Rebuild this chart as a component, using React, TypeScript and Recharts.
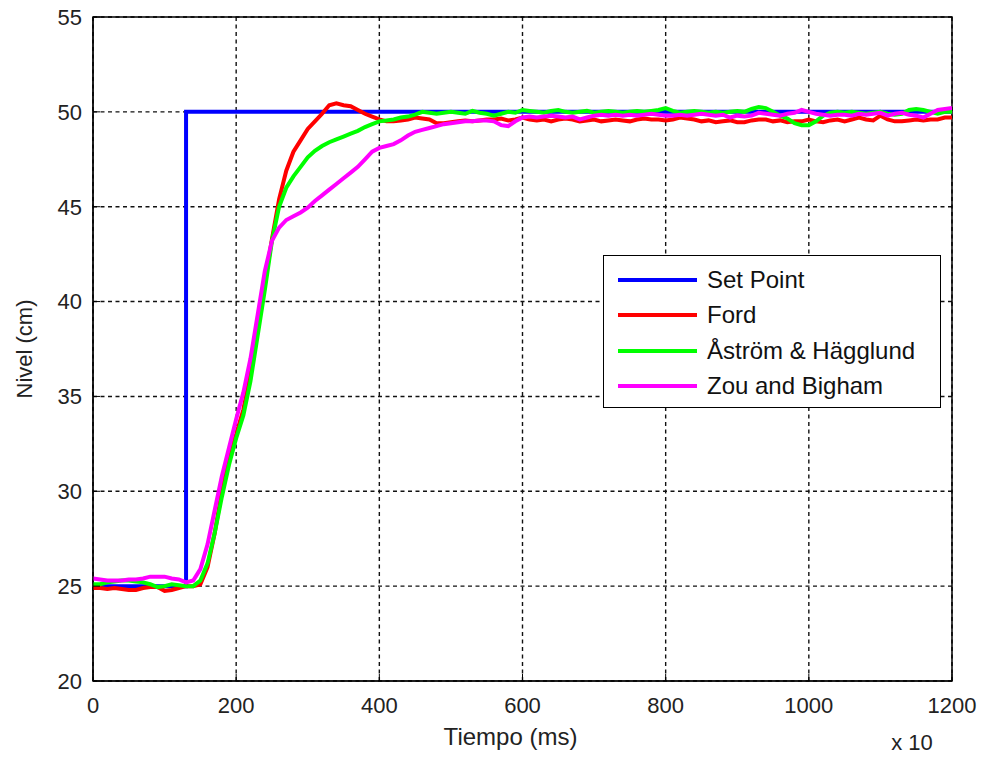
import React from 'react';
import {
  LineChart,
  Line,
  XAxis,
  YAxis,
  CartesianGrid,
  ReferenceArea,
} from 'recharts';

// Tiempo (x 10 ms), muestreado cada 10
const TIEMPO = [
  0, 10, 20, 30, 40, 50, 60, 70, 80, 90, 100, 110, 120, 130, 140, 150, 160, 170, 180, 190,
  200, 210, 220, 230, 240, 250, 260, 270, 280, 290, 300, 310, 320, 330, 340, 350, 360, 370, 380, 390,
  400, 410, 420, 430, 440, 450, 460, 470, 480, 490, 500, 510, 520, 530, 540, 550, 560, 570, 580, 590,
  600, 610, 620, 630, 640, 650, 660, 670, 680, 690, 700, 710, 720, 730, 740, 750, 760, 770, 780, 790,
  800, 810, 820, 830, 840, 850, 860, 870, 880, 890, 900, 910, 920, 930, 940, 950, 960, 970, 980, 990,
  1000, 1010, 1020, 1030, 1040, 1050, 1060, 1070, 1080, 1090, 1100, 1110, 1120, 1130, 1140, 1150, 1160, 1170, 1180, 1190,
  1200,
];

// Set point (escalon)
const SP_TIEMPO = [0, 130, 130, 1200];
const SP_NIVEL = [25, 25, 50, 50];

const FORD = [
  24.9, 24.9, 24.85, 24.9, 24.85, 24.8, 24.8, 24.9, 24.95, 24.95, 24.75, 24.8, 24.9, 25.0, 25.0, 25.1, 26.0, 27.8, 30.0, 31.8,
  33.0, 34.3, 36.2, 38.8, 41.0, 43.3, 45.4, 46.9, 47.9, 48.5, 49.1, 49.5, 49.9, 50.35, 50.45, 50.35, 50.3, 50.1, 49.9, 49.75,
  49.6, 49.5, 49.5, 49.55, 49.6, 49.7, 49.65, 49.6, 49.4, 49.4, 49.45, 49.5, 49.55, 49.5, 49.55, 49.6, 49.6, 49.65, 49.55, 49.6,
  49.7, 49.6, 49.55, 49.6, 49.5, 49.6, 49.65, 49.6, 49.5, 49.55, 49.6, 49.5, 49.55, 49.6, 49.55, 49.5, 49.6, 49.65, 49.6, 49.6,
  49.55, 49.6, 49.7, 49.65, 49.6, 49.5, 49.55, 49.45, 49.5, 49.55, 49.45, 49.45, 49.55, 49.6, 49.6, 49.5, 49.55, 49.45, 49.5, 49.5,
  49.6, 49.5, 49.45, 49.55, 49.6, 49.5, 49.6, 49.7, 49.6, 49.55, 49.8, 49.6, 49.5, 49.5, 49.55, 49.6, 49.55, 49.6, 49.6, 49.7,
  49.7,
];

const ASTROM = [
  25.1, 25.1, 25.2, 25.25, 25.3, 25.3, 25.25, 25.2, 25.1, 24.95, 25.0, 25.1, 25.05, 25.0, 25.0, 25.3, 26.2, 27.8, 29.7, 31.4,
  32.8, 34.0, 35.8, 38.2, 40.6, 43.2, 45.0, 46.0, 46.6, 47.1, 47.6, 47.95, 48.2, 48.4, 48.55, 48.7, 48.85, 49.0, 49.2, 49.35,
  49.5, 49.55, 49.6, 49.7, 49.75, 49.85, 50.0, 49.95, 49.9, 49.95, 50.0, 49.95, 49.9, 50.05, 49.95, 49.9, 49.8, 49.9, 50.0, 49.95,
  50.1, 50.05, 50.0, 49.95, 50.05, 50.1, 50.0, 49.95, 50.0, 50.05, 49.95, 50.0, 50.05, 50.0, 49.95, 50.0, 50.05, 50.0, 50.05, 50.1,
  50.2, 50.05, 49.95, 50.0, 50.05, 50.0, 49.95, 50.0, 49.95, 50.0, 50.05, 50.0, 50.15, 50.25, 50.2, 50.0, 49.8, 49.65, 49.4, 49.3,
  49.3, 49.5, 49.8, 49.95, 50.0, 49.95, 50.0, 49.95, 49.9, 49.95, 50.0, 49.9, 49.85, 49.9, 50.1, 50.15, 50.1, 50.0, 49.9, 50.0,
  50.0,
];

const ZOU = [
  25.4, 25.35, 25.3, 25.3, 25.3, 25.35, 25.35, 25.4, 25.5, 25.5, 25.5, 25.4, 25.35, 25.2, 25.3, 25.9, 27.2, 29.0, 30.8, 32.3,
  33.8, 35.2, 37.0, 39.3, 41.6, 43.2, 43.9, 44.3, 44.5, 44.7, 44.95, 45.3, 45.6, 45.9, 46.2, 46.5, 46.8, 47.1, 47.5, 47.9,
  48.1, 48.2, 48.3, 48.5, 48.75, 48.95, 49.05, 49.15, 49.25, 49.35, 49.4, 49.45, 49.5, 49.5, 49.55, 49.55, 49.5, 49.3, 49.25, 49.5,
  49.7, 49.75, 49.7, 49.75, 49.8, 49.75, 49.7, 49.75, 49.6, 49.7, 49.8, 49.85, 49.8, 49.85, 49.8, 49.85, 49.8, 49.85, 49.9, 49.85,
  49.8, 49.8, 49.85, 49.8, 49.85, 49.9, 49.85, 49.8, 49.85, 49.7, 49.8, 49.75, 49.8, 49.95, 49.9, 49.85, 49.8, 49.9, 49.95, 50.1,
  50.0, 49.9, 49.85, 49.8, 49.85, 49.85, 49.8, 49.9, 49.85, 49.9, 49.95, 49.8, 49.9, 49.95, 49.85, 49.8, 49.7, 49.9, 50.1, 50.15,
  50.2,
];

const X_TICKS = [0, 200, 400, 600, 800, 1000, 1200];
const Y_TICKS = [20, 25, 30, 35, 40, 45, 50, 55];

const SERIES = [
  { name: 'Set Point', color: '#0000ff' },
  { name: 'Ford', color: '#ff0000' },
  { name: 'Åström & Hägglund', color: '#00ff00' },
  { name: 'Zou and Bigham', color: '#ff00ff' },
];

const FONT = '"Liberation Sans", Arial, sans-serif';

const setPointData = SP_TIEMPO.map((t, i) => ({ t, v: SP_NIVEL[i] }));
const toRows = (vals: number[]) => TIEMPO.map((t, i) => ({ t, v: vals[i] }));

// Leyenda tipo MATLAB, colocada a mano sobre el grafico
const LegendBox = () => (
  <div
    style={{
      position: 'absolute',
      left: 603,
      top: 255,
      width: 338,
      height: 153,
      border: '1.5px solid #000',
      background: '#fff',
      fontFamily: FONT,
      fontSize: 24,
      color: '#111',
      paddingTop: 6,
      boxSizing: 'border-box',
    }}
  >
    {SERIES.map((s) => (
      <div key={s.name} style={{ display: 'flex', alignItems: 'center', height: 35.5 }}>
        <div style={{ width: 79, height: 4, background: s.color, marginLeft: 14, marginRight: 10 }} />
        <span>{s.name}</span>
      </div>
    ))}
  </div>
);

const XLabel = (props: any) => {
  const vb = props.viewBox || {};
  const cx = vb.x + vb.width / 2;
  return (
    <g fontFamily={FONT} fill="#222">
      <text x={cx - 12} y={745} textAnchor="middle" fontSize={24}>
        Tiempo (ms)
      </text>
      <text x={912} y={750} textAnchor="middle" fontSize={22}>
        x 10
      </text>
    </g>
  );
};

export default function App() {
  return (
    <div style={{ position: 'relative', width: 981, height: 757, background: '#fff' }}>
      <style>{'body{margin:0;background:#fff}'}</style>
      <LineChart
        width={981}
        height={757}
        margin={{ top: 17, right: 29, bottom: 0, left: 0 }}
      >
        <CartesianGrid
          stroke="#111"
          strokeWidth={1.4}
          strokeDasharray="4 3.5"
          horizontalValues={Y_TICKS}
          verticalValues={X_TICKS}
        />
        <XAxis
          dataKey="t"
          type="number"
          domain={[0, 1200]}
          ticks={X_TICKS}
          height={76}
          allowDataOverflow
          stroke="#000"
          tickSize={-7}
          tickMargin={23}
          tick={{ fill: '#222', fontSize: 22, fontFamily: FONT }}
          label={<XLabel />}
        />
        <YAxis
          type="number"
          domain={[20, 55]}
          ticks={Y_TICKS}
          width={93}
          allowDataOverflow
          stroke="#000"
          tickSize={-7}
          tickMargin={18}
          tick={{ fill: '#222', fontSize: 22, fontFamily: FONT }}
          label={{
            value: 'Nivel (cm)',
            angle: -90,
            position: 'insideLeft',
            dx: 19,
            style: { fill: '#222', fontSize: 22, fontFamily: FONT, textAnchor: 'middle' },
          }}
        />
        <ReferenceArea x1={0} x2={1200} y1={20} y2={55} fill="none" stroke="#000" strokeWidth={1.5} />
        <Line
          data={setPointData}
          dataKey="v"
          name="Set Point"
          stroke="#0000ff"
          strokeWidth={4}
          dot={false}
          type="linear"
          isAnimationActive={false}
        />
        <Line
          data={toRows(FORD)}
          dataKey="v"
          name="Ford"
          stroke="#ff0000"
          strokeWidth={4}
          dot={false}
          type="linear"
          isAnimationActive={false}
        />
        <Line
          data={toRows(ASTROM)}
          dataKey="v"
          name="Åström & Hägglund"
          stroke="#00ff00"
          strokeWidth={4}
          dot={false}
          type="linear"
          isAnimationActive={false}
        />
        <Line
          data={toRows(ZOU)}
          dataKey="v"
          name="Zou and Bigham"
          stroke="#ff00ff"
          strokeWidth={4}
          dot={false}
          type="linear"
          isAnimationActive={false}
        />
      </LineChart>
      <LegendBox />
    </div>
  );
}
